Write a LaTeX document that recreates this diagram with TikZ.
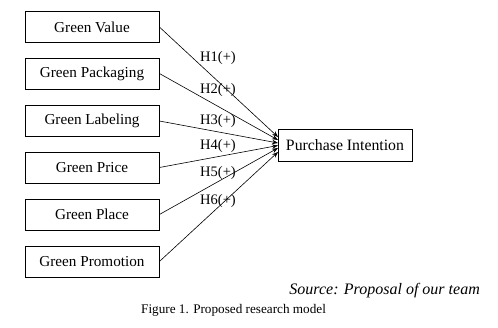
\documentclass[tikz,border=0pt]{standalone}
\usepackage{fontspec}
\setmainfont{Liberation Serif}
\usetikzlibrary{arrows.meta}
\begin{document}
\begin{tikzpicture}[x=1pt,y=-1pt,
  box/.style={draw,line width=0.8pt,minimum width=134pt,minimum height=31pt,inner sep=0pt,font=\fontsize{15.2}{17}\selectfont},
  arr/.style={line width=0.6pt,-{Stealth[length=6pt,width=4.5pt]}},
  hlab/.style={anchor=west,inner sep=0pt,font=\fontsize{14.5}{16}\selectfont}]
\useasboundingbox (0,0) rectangle (498,327);
\node[box] (b1) at (92,27) {Green Value};
\node[box] (b2) at (92,73.5) {Green Packaging};
\node[box] (b3) at (92,121) {Green Labeling};
\node[box] (b4) at (92,167.5) {Green Price};
\node[box] (b5) at (92,214.5) {Green Place};
\node[box] (b6) at (92,261.5) {Green Promotion};
\node[box,minimum height=32pt,font=\fontsize{15.8}{17}\selectfont] (pi) at (345,145) {Purchase Intention};
\coordinate (t1) at (278,137);
\coordinate (t2) at (278,140);
\coordinate (t3) at (278,143);
\coordinate (t4) at (278,145.5);
\coordinate (t5) at (278,148);
\coordinate (t6) at (278,152);
\draw[arr] (b1.east) -- (t1);
\draw[arr] (b2.east) -- (t2);
\draw[arr] (b3.east) -- (t3);
\draw[arr] (b4.east) -- (t4);
\draw[arr] (b5.east) -- (t5);
\draw[arr] (b6.east) -- (t6);
\node[hlab] (h1) at (200,58) {H1(+)};
\node[hlab] (h2) at (200,90) {H2(+)};
\node[hlab] (h3) at (200,121) {H3(+)};
\node[hlab] (h4) at (200,146) {H4(+)};
\node[hlab] (h5) at (200,173) {H5(+)};
\node[hlab] (h6) at (200,201) {H6(+)};
\node[anchor=east,inner sep=0pt,font=\fontsize{16}{18}\selectfont\itshape] (src) at (480,291) {Source: Proposal of our team};
\node[anchor=west,inner sep=0pt,font=\fontsize{13.2}{16}\selectfont] (cap) at (141,310) {Figure 1. Proposed research model};
\end{tikzpicture}
\end{document}
